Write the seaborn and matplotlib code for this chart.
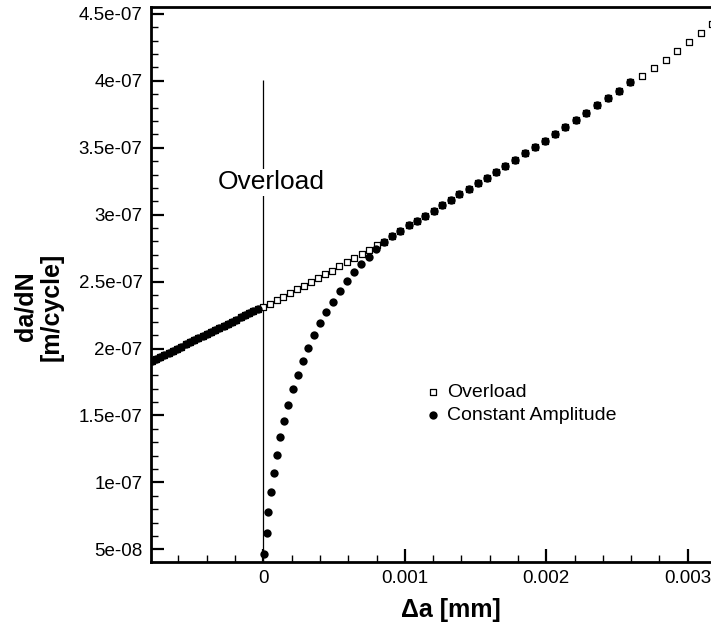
"""
da/dN vs crack extension after an overload
"""

import numpy as np
import pandas as pd
import matplotlib
matplotlib.use('Agg')
import matplotlib.pyplot as plt
import seaborn as sns
from matplotlib.ticker import MultipleLocator

# --- data (da in 1e-3 mm, rate in 1e-7 m/cycle) ---
pre_da = [-0.82, -0.79, -0.76, -0.73, -0.70, -0.67, -0.64, -0.61, -0.58,
          -0.55, -0.52, -0.49, -0.46, -0.43, -0.40, -0.37, -0.34, -0.31,
          -0.28, -0.25, -0.22, -0.19, -0.16, -0.13, -0.10, -0.07, -0.04]
pre_rate = [1.893, 1.908, 1.924, 1.939, 1.954, 1.969, 1.985, 2.000, 2.015,
            2.031, 2.046, 2.061, 2.076, 2.092, 2.107, 2.122, 2.137, 2.153,
            2.168, 2.183, 2.200, 2.216, 2.232, 2.248, 2.265, 2.282, 2.298]

ol_mid_da = [0.0, 0.047, 0.095, 0.141, 0.189, 0.236, 0.288, 0.337, 0.389,
             0.436, 0.483, 0.537, 0.589, 0.643, 0.695, 0.749, 0.801]
ol_mid_rate = [2.312, 2.333, 2.362, 2.385, 2.413, 2.442, 2.469, 2.499, 2.527,
               2.557, 2.581, 2.617, 2.644, 2.676, 2.709, 2.738, 2.774]

ca_da = [0.007, 0.024, 0.035, 0.052, 0.074, 0.095, 0.118, 0.148, 0.177, 0.212,
         0.247, 0.283, 0.318, 0.360, 0.403, 0.445, 0.493, 0.540, 0.592, 0.639,
         0.693, 0.747, 0.799, 0.853, 0.912, 0.968, 1.028, 1.086, 1.141, 1.204,
         1.265, 1.324, 1.383, 1.454, 1.515, 1.581, 1.645, 1.710, 1.781, 1.852,
         1.920, 1.991, 2.062, 2.134, 2.208, 2.281, 2.356, 2.434, 2.512, 2.592]
ca_rate = [0.464, 0.623, 0.778, 0.925, 1.070, 1.206, 1.339, 1.458, 1.580, 1.695,
           1.802, 1.907, 2.004, 2.099, 2.188, 2.273, 2.351, 2.430, 2.502, 2.569,
           2.629, 2.686, 2.741, 2.796, 2.841, 2.880, 2.921, 2.955, 2.993, 3.030,
           3.072, 3.110, 3.151, 3.192, 3.235, 3.277, 3.321, 3.366, 3.411, 3.459,
           3.506, 3.553, 3.603, 3.653, 3.708, 3.762, 3.818, 3.872, 3.928, 3.990]

ol_tail_da = [2.674, 2.763, 2.844, 2.922, 3.006, 3.093, 3.169]
ol_tail_rate = [4.037, 4.099, 4.156, 4.224, 4.291, 4.360, 4.425]

x_ticks = [0, 0.001, 0.002, 0.003]
x_tick_labels = ['0', '0.001', '0.002', '0.003']
y_ticks = [5e-08, 1e-07, 1.5e-07, 2e-07, 2.5e-07, 3e-07, 3.5e-07, 4e-07, 4.5e-07]
y_tick_labels = ['5e-08', '1e-07', '1.5e-07', '2e-07', '2.5e-07', '3e-07',
                 '3.5e-07', '4e-07', '4.5e-07']

overload_at = 0.0
overload_line_top = 4.01e-07

# overload and constant amplitude coincide before the overload and after ~0.00085
merge = [i for i, v in enumerate(ca_da) if v > 0.85]
ol_da = pre_da + ol_mid_da + [ca_da[i] for i in merge] + ol_tail_da
ol_rate = pre_rate + ol_mid_rate + [ca_rate[i] for i in merge] + ol_tail_rate

df_ol = pd.DataFrame({'da': np.array(ol_da) * 1e-3, 'rate': np.array(ol_rate) * 1e-7})
df_ca = pd.DataFrame({'da': np.array(pre_da + ca_da) * 1e-3,
                      'rate': np.array(pre_rate + ca_rate) * 1e-7})

sns.set_style('ticks')
plt.rcParams['font.family'] = ['Liberation Sans', 'DejaVu Sans']
plt.rcParams['text.color'] = 'black'
plt.rcParams['axes.labelcolor'] = 'black'
plt.rcParams['xtick.color'] = 'black'
plt.rcParams['ytick.color'] = 'black'

fig = plt.figure(figsize=(7.11, 6.27), dpi=100)
ax = fig.add_axes([151 / 711, 1 - 562 / 627, 560 / 711, 555 / 627])

y_lo, y_hi = 4.05e-08, 4.552e-07
ax.vlines(overload_at, y_lo, overload_line_top, color='black', lw=0.9, zorder=2)

sns.scatterplot(data=df_ol, x='da', y='rate', marker='s', s=14, color='white',
                edgecolor='black', linewidth=0.9, label='Overload', ax=ax, zorder=3)
sns.scatterplot(data=df_ca, x='da', y='rate', marker='o', s=36, color='black',
                edgecolor='black', linewidth=0, label='Constant Amplitude', ax=ax, zorder=4)

ax.text(0.0000544, 3.19e-07, 'Overload', fontsize=19, ha='center', va='baseline',
        zorder=5, bbox=dict(facecolor='white', edgecolor='none', pad=1))

ax.set_xlim(-0.000794, 0.003164)
ax.set_ylim(y_lo, y_hi)
ax.set_xticks(x_ticks)
ax.set_xticklabels(x_tick_labels)
ax.set_yticks(y_ticks)
ax.set_yticklabels(y_tick_labels)
ax.xaxis.set_minor_locator(MultipleLocator(0.0002))
ax.yaxis.set_minor_locator(MultipleLocator(1e-08))
ax.tick_params(which='major', direction='in', length=9.5, width=1.6,
               labelsize=13.5, pad=6, colors='black')
ax.tick_params(which='minor', direction='in', length=5, width=1.0)

for side in ['left', 'bottom', 'top']:
    ax.spines[side].set_linewidth(2)
    ax.spines[side].set_color('black')
ax.spines['right'].set_visible(False)

ax.set_xlabel('\u0394a [mm]', fontsize=18, fontweight='bold', va='center')
ax.xaxis.set_label_coords(0.536, -0.0865)
ax.set_ylabel('da/dN\n[m/cycle]', fontsize=18, fontweight='bold', va='center',
              ha='center', linespacing=1.15)
ax.yaxis.set_label_coords(-0.201, 0.4604)

ax.legend(loc='upper left', bbox_to_anchor=(0.4896, 0.322), frameon=False,
          fontsize=14, handlelength=0.8, handletextpad=0.32, borderpad=0,
          borderaxespad=0, labelspacing=0.28)

plt.savefig('out.png', dpi=100)
plt.close()
